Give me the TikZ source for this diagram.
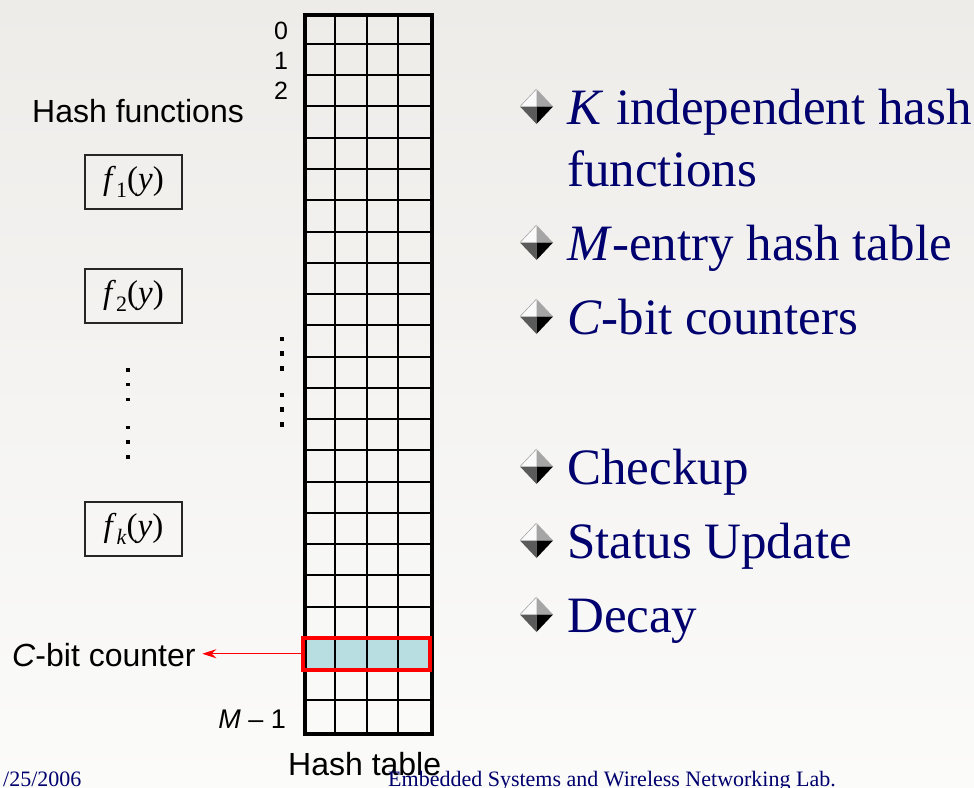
\documentclass[tikz,border=0pt]{standalone}
\usepackage{fontspec}
\setmainfont{Liberation Serif}
\setsansfont{Liberation Sans}
\usetikzlibrary{arrows.meta}
\definecolor{navy}{RGB}{0,0,110}
\definecolor{cellblue}{RGB}{185,222,226}
\definecolor{bgtop}{RGB}{238,236,233}
\definecolor{bgbot}{RGB}{251,251,250}
\definecolor{bulA}{RGB}{250,250,250}
\definecolor{bulB}{RGB}{165,165,165}
\definecolor{bulC}{RGB}{90,90,90}
\begin{document}
\begin{tikzpicture}[x=1pt,y=-1pt,
  lab/.style={font=\sffamily\fontsize{32}{32}\selectfont, inner sep=0pt},
  idx/.style={font=\sffamily\fontsize{25}{25}\selectfont, inner sep=0pt, anchor=base},
  fbox/.style={draw=black!85, line width=1.3pt, minimum width=97pt, minimum height=54pt, inner sep=0pt, font=\fontsize{33}{33}\selectfont},
  item/.style={font=\fontsize{51}{51}\selectfont, text=navy, inner sep=0pt, anchor=base west},
  foot/.style={font=\fontsize{22}{22}\selectfont, text=navy, inner sep=0pt, anchor=base west},
  thingrid/.style={line width=2pt, black},
  dbul/.pic={
    \fill[bulA] (0,-17.5) -- (-16.5,0) -- (0,0) -- cycle;
    \fill[bulB] (0,-17.5) -- (16.5,0) -- (0,0) -- cycle;
    \fill[bulC] (-16.5,0) -- (0,17.5) -- (0,0) -- cycle;
    \fill[black] (16.5,0) -- (0,17.5) -- (0,0) -- cycle;
    \draw[black!35, line width=0.6pt] (-16.5,0) -- (0,-17.5);
  }
]
\useasboundingbox (0,0) rectangle (974,787);
\shade[top color=bgtop, bottom color=bgbot] (0,0) rectangle (974,787);

% highlighted row fill
\node[fill=cellblue, minimum width=127pt, minimum height=31.26pt, inner sep=0pt, anchor=north west] (crow) at (303,637.9) {};

% grid
\foreach \i in {1,...,22} {
  \draw[thingrid] (303,{12.7+\i*31.26}) -- (430,{12.7+\i*31.26});
}
\foreach \x in {334.75,366.5,398.25} {
  \draw[thingrid] (\x,12.7) -- (\x,731.7);
}
\node[draw, line width=4pt, minimum width=127pt, minimum height=719pt, inner sep=0pt, anchor=north west] (table) at (303,12.7) {};
\draw[red, line width=4pt] (crow.north west) rectangle (crow.south east);

% index labels
\node[idx] (r0) at (281,39) {0};
\node[idx] (r1) at (281,69) {1};
\node[idx] (r2) at (281,99) {2};
\node[font=\sffamily\fontsize{27}{27}\selectfont, inner sep=0pt, anchor=base east] (rM) at (286,728) {\textit{M} – 1};

% dots next to table
\foreach \y in {339,353.7,368.7,395,409.7,424.3} {
  \fill (279.5,\y-2.25) rectangle (283.9,\y+2.25);
}

% hash functions
\node[lab, anchor=base west] (hf) at (32,122) {Hash functions};
\node[fbox] (f1) at (133.5,182) {\textit{f}\raisebox{-0.22em}{\fontsize{22}{22}\selectfont 1}(\textit{y})};
\node[fbox] (f2) at (133.5,296) {\textit{f}\raisebox{-0.22em}{\fontsize{22}{22}\selectfont 2}(\textit{y})};
\node[fbox] (fk) at (133.5,529) {\textit{f}\raisebox{-0.22em}{\fontsize{22}{22}\selectfont\textit{k}}(\textit{y})};
\foreach \y in {370,384.3,399.3,427.3,442,456.7} {
  \fill (125.9,\y-1.8) rectangle (129.5,\y+1.8);
}

% C-bit counter label and arrow
\node[lab, anchor=base west, inner xsep=6.5pt, inner ysep=0pt] (ctext) at (5.5,666) {\textit{C}-bit counter};
\draw[red, line width=1pt, -{Stealth[length=14pt,width=9pt]}] (crow.west) -- (crow.west -| ctext.east);

% table caption
\node[lab, anchor=base west] (ht) at (288,775) {Hash table};

% bullet list
\pic at (536.5,106.5) {dbul};
\node[item] (i1) at (567,124) {\textit{K} independent hash};
\node[item] (i1b) at (567,186) {functions};
\pic at (536.5,242.5) {dbul};
\node[item] (i2) at (567,260) {\textit{M}-entry hash table};
\pic at (536.5,316.5) {dbul};
\node[item] (i3) at (567,334) {\textit{C}-bit counters};
\pic at (536.5,466.5) {dbul};
\node[item] (i4) at (567,484) {Checkup};
\pic at (536.5,540.5) {dbul};
\node[item] (i5) at (567,558) {Status Update};
\pic at (536.5,614.5) {dbul};
\node[item] (i6) at (567,632) {Decay};

% footer
\node[foot] (date) at (3,786) {/25/2006};
\node[foot] (lab) at (388,786) {Embedded Systems and Wireless Networking Lab.};
\end{tikzpicture}
\end{document}
